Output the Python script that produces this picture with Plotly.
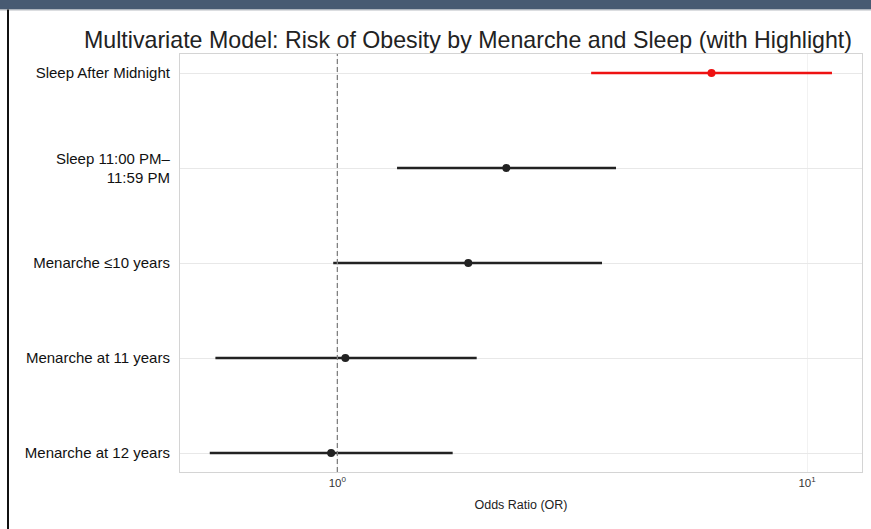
import plotly.graph_objects as go

# Data (top to bottom)
categories = [
    "Sleep After Midnight",
    "Sleep 11:00 PM–<br>11:59 PM",
    "Menarche ≤10 years",
    "Menarche at 11 years",
    "Menarche at 12 years",
]
odds_ratio = [6.26, 2.29, 1.90, 1.04, 0.97]
ci_low = [3.47, 1.34, 0.98, 0.55, 0.535]
ci_high = [11.3, 3.92, 3.66, 1.98, 1.76]
highlight = [True, False, False, False, False]

x_tickvals = [1, 10]
x_ticktext = ["10<sup>0</sup>", "10<sup>1</sup>"]

FONT = "Liberation Sans, Arial, sans-serif"

fig = go.Figure()
for i, cat in enumerate(categories):
    col = "#ee1111" if highlight[i] else "#222222"
    fig.add_trace(go.Scatter(
        x=[odds_ratio[i]], y=[i],
        mode="markers",
        marker=dict(size=8, color=col),
        error_x=dict(type="data", symmetric=False,
                     array=[ci_high[i] - odds_ratio[i]],
                     arrayminus=[odds_ratio[i] - ci_low[i]],
                     width=0, thickness=2.4, color=col),
        showlegend=False,
        hoverinfo="skip",
    ))

# reference line at OR = 1
fig.add_shape(type="line", xref="x", yref="paper", x0=1, x1=1, y0=0, y1=1,
              line=dict(color="#808080", width=1.3, dash="5px,3px"))

# screenshot frame: top bar and left border
L, R, T, B, W, H = 180, 9, 54, 57, 871, 529
pw, ph = W - L - R, H - T - B
def px(x):
    return (x - L) / pw
def py(y):
    return (H - B - y) / ph
fig.add_shape(type="rect", xref="paper", yref="paper", x0=px(0), x1=px(W), y0=py(9.5), y1=py(0),
              fillcolor="#475a72", line=dict(width=0), layer="above")
fig.add_shape(type="line", xref="paper", yref="paper", x0=px(0), x1=px(W), y0=py(10), y1=py(10),
              line=dict(color="#b8bcc2", width=1), layer="above")
fig.add_shape(type="line", xref="paper", yref="paper", x0=px(8), x1=px(8), y0=py(9.5), y1=py(H),
              line=dict(color="#111111", width=2), layer="above")

fig.update_layout(
    width=W, height=H,
    margin=dict(l=L, r=R, t=T, b=B),
    paper_bgcolor="white", plot_bgcolor="white",
    font=dict(family=FONT, color="#111111", size=13),
    title=dict(text="Multivariate Model: Risk of Obesity by Menarche and Sleep (with Highlight)",
               x=468 / W, xanchor="center", y=1 - 40 / H, yanchor="middle",
               font=dict(size=23.2, color="#222222", family=FONT)),
)
fig.update_xaxes(
    type="log", range=[-0.335, 1.117],
    tickvals=x_tickvals, ticktext=x_ticktext,
    showgrid=True, gridcolor="#f2f2f2", gridwidth=1,
    zeroline=False,
    showline=True, mirror=True, linecolor="#d4d4d4", linewidth=1.2,
    ticks="", tickfont=dict(size=11.5, color="#333333"),
    title=dict(text="Odds Ratio (OR)", font=dict(size=12.5, color="#222222"), standoff=12),
)
fig.update_yaxes(
    range=[4.2, -0.2],
    tickvals=list(range(len(categories))), ticktext=categories,
    showgrid=True, gridcolor="#e8e8e8", gridwidth=1.2,
    zeroline=False,
    showline=True, mirror=True, linecolor="#d4d4d4", linewidth=1.2,
    ticks="", ticklen=0, ticklabelstandoff=6,
    tickfont=dict(size=15, color="#111111"),
)

fig.write_html("out.html", post_script="document.body.style.margin='0';",
               config={"displayModeBar": False})
